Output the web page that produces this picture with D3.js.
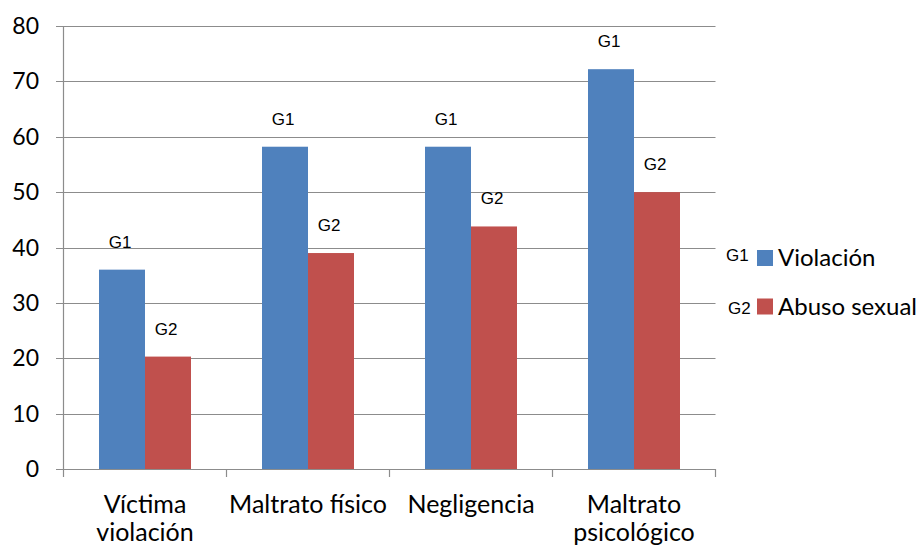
<!DOCTYPE html>
<html><head><meta charset="utf-8">
<script src="https://cdn.jsdelivr.net/npm/d3@7"></script>
<style>body{margin:0;background:#fff}svg{display:block}</style>
</head><body>
<svg id="c" width="919" height="546"></svg>
<script>
const categories = [["Víctima","violación"],["Maltrato físico"],["Negligencia"],["Maltrato","psicológico"]];
const seriesNames = ["Violación","Abuso sexual"];
const seriesTags = ["G1","G2"];
const violacion = [36, 58.2, 58.2, 72.2];
const abusoSexual = [20.3, 39, 43.8, 50];
const yTicks = [0,10,20,30,40,50,60,70,80];
const colors = ["#4F81BD","#C0504D"];

const svg = d3.select("#c");
const catFont = "Lato, 'Noto Sans', sans-serif";
const tagFont = "'Liberation Sans', Arial, sans-serif";
const x = d3.scaleBand().domain(d3.range(categories.length)).range([63.5,715.5]);
const xs = d3.scaleBand().domain([0,1]).range([35.5,127.5]);
const y = d3.scaleLinear().domain([0,80]).range([469,26]);
const series = [violacion, abusoSexual];

// gridlines
svg.append("g").selectAll("line").data(yTicks).join("line")
  .attr("x1",56).attr("x2",715.5)
  .attr("y1",d=>Math.round(y(d))+0.5).attr("y2",d=>Math.round(y(d))+0.5)
  .attr("stroke","#8c8c8c").attr("stroke-width",1.2);
// y axis line
svg.append("line").attr("x1",63.5).attr("x2",63.5).attr("y1",y(80)).attr("y2",y(0))
  .attr("stroke","#8c8c8c").attr("stroke-width",1.2);
// x ticks
svg.append("g").selectAll("line").data(d3.range(categories.length+1)).join("line")
  .attr("x1",d=>d<categories.length? x(d) : x(d-1)+x.bandwidth())
  .attr("x2",d=>d<categories.length? x(d) : x(d-1)+x.bandwidth())
  .attr("y1",y(0)).attr("y2",y(0)+8)
  .attr("stroke","#8c8c8c").attr("stroke-width",1.2);
// y labels
svg.append("g").selectAll("text").data(yTicks).join("text")
  .attr("x",39).attr("y",d=>y(d)+8).attr("text-anchor","end")
  .attr("font-family",catFont).attr("font-size",23).attr("fill","#000")
  .text(d=>d);

// bars
series.forEach((vals,si)=>{
  svg.append("g").selectAll("rect").data(vals).join("rect")
    .attr("x",(d,i)=>x(i)+xs(si)).attr("width",xs.bandwidth())
    .attr("y",d=>y(d)).attr("height",d=>y(0)-y(d))
    .attr("fill",colors[si]);
  svg.append("g").selectAll("text").data(vals).join("text")
    .attr("x",(d,i)=>x(i)+xs(si)+xs.bandwidth()/2-2)
    .attr("y",d=>y(d)-22)
    .attr("text-anchor","middle")
    .attr("font-family",tagFont).attr("font-size",17)
    .attr("fill","#000").text(seriesTags[si]);
});

// category labels
const cg = svg.append("g").selectAll("text").data(categories).join("text")
  .attr("x",(d,i)=>x(i)+x.bandwidth()/2).attr("y",513)
  .attr("text-anchor","middle").attr("font-family",catFont).attr("font-size",25).attr("fill","#000");
cg.selectAll("tspan").data(d=>d).join("tspan")
  .attr("x",function(){return this.parentNode.getAttribute("x");})
  .attr("dy",(d,i)=>i===0?0:28).text(d=>d);

// legend
const legY = [258, 306.5];
const tagX = [726, 728];
const tagDy = [3, 7.5];
seriesNames.forEach((n,i)=>{
  svg.append("text").attr("x",tagX[i]).attr("y",legY[i]+tagDy[i]).attr("font-family",tagFont)
    .attr("font-size",17).text(seriesTags[i]);
  svg.append("rect").attr("x",757).attr("y",legY[i]-8).attr("width",16).attr("height",16).attr("fill",colors[i]);
  svg.append("text").attr("x",778).attr("y",legY[i]+8).attr("font-family",catFont).attr("font-size",24).text(n);
});
</script>
</body></html>
